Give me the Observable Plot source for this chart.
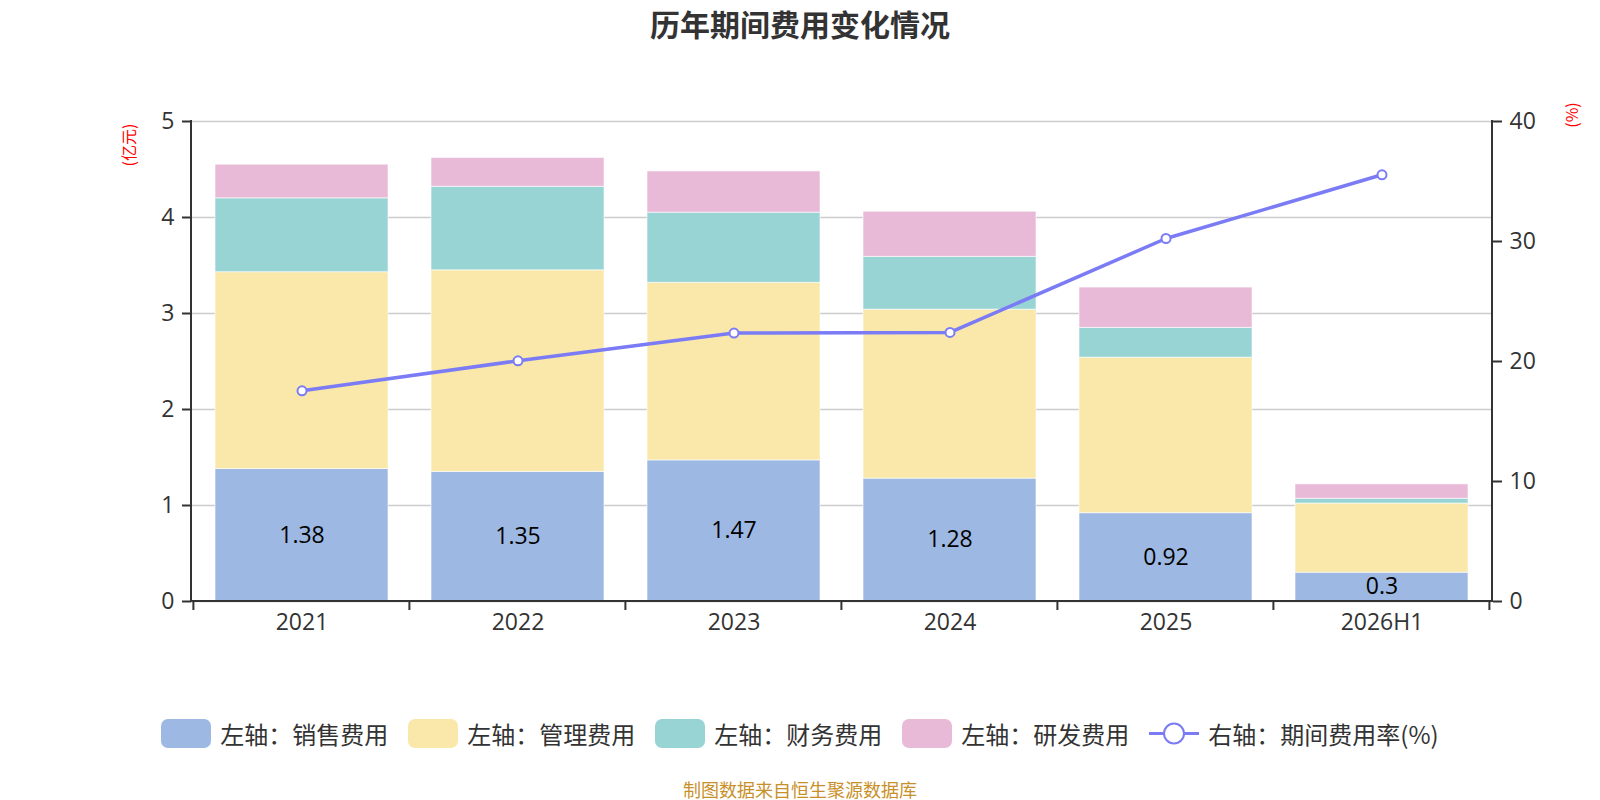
<!DOCTYPE html>
<html><head><meta charset="utf-8">
<script src="https://cdn.jsdelivr.net/npm/d3@7"></script>
<script src="https://cdn.jsdelivr.net/npm/@observablehq/plot@0.6"></script>
<style>
body{margin:0;background:#fff;width:1600px;height:800px;position:relative;overflow:hidden;font-family:"Open Sans","Noto Sans CJK SC",sans-serif}
#title{position:absolute;top:0;left:0;width:1600px;text-align:center;font-weight:bold;font-size:30px;font-family:"Noto Sans CJK SC",sans-serif;color:#333;line-height:46px}
#chart{position:absolute;top:60px;left:0}
.unit{position:absolute;color:#ff0000;font-size:16px;font-family:"Noto Sans CJK SC",sans-serif;transform:translate(-50%,-50%) rotate(-90deg);white-space:nowrap;line-height:16px}
#legend{position:absolute;top:716px;left:0;width:1600px;display:flex;justify-content:center;align-items:center;gap:20px}
.item{display:flex;align-items:center;gap:9px;font-size:24px;color:#333;font-family:"Noto Sans CJK SC",sans-serif}
.sw{width:50px;height:29px;border-radius:7px}
#caption{position:absolute;top:777px;left:0;width:1600px;text-align:center;font-size:18px;color:#c8902a;font-family:"Noto Sans CJK SC",sans-serif;line-height:24px}
</style></head>
<body>
<div id="title">历年期间费用变化情况</div>
<div id="chart"></div>
<div class="unit" style="left:128px;top:145px">(亿元)</div>
<div class="unit" style="left:1571px;top:115px">(%)</div>
<div id="legend"></div>
<div id="caption">制图数据来自恒生聚源数据库</div>
<script>
const categories = ["2021","2022","2023","2024","2025","2026H1"];
const seriesNames = ["左轴：销售费用","左轴：管理费用","左轴：财务费用","左轴：研发费用"];
const lineName = "右轴：期间费用率(%)";
const sales   = [1.38,1.35,1.47,1.28,0.92,0.30];
const admin   = [2.05,2.10,1.85,1.76,1.62,0.72];
const finance = [0.77,0.87,0.73,0.55,0.31,0.05];
const rnd     = [0.35,0.30,0.43,0.47,0.42,0.15];
const rate    = [17.56,20.06,22.37,22.42,30.25,35.56];
const leftTicks = [0,1,2,3,4,5];
const rightTicks = [0,10,20,30,40];
const colors = ["#9DB8E2","#F9E8A9","#98D4D4","#E8BAD8"];
const lineColor = "#7B7CF5";

const seriesValues = [sales, admin, finance, rnd];
const long = [];
seriesNames.forEach((s, si) => categories.forEach((c, i) => long.push({cat: c, series: s, value: seriesValues[si][i]})));
const salesRows = categories.map((c, i) => ({cat: c, value: sales[i]}));
const rateRows = categories.map((c, i) => ({cat: c, rate: rate[i]}));
const rightScale = 5 / 40;

function axisLines(index, scales, values, dims) {
  const {x, y} = scales;
  const left = dims.marginLeft, right = dims.width - dims.marginRight;
  const y0 = y(0), yTop = y(5);
  const step = x(categories[1]) - x(categories[0]);
  const bounds = categories.map(c => x(c) - step * 0.1);
  bounds.push(x(categories[categories.length - 1]) + step * 0.9);
  const g = d3.create("svg:g").attr("stroke", "#333").attr("stroke-width", 2).attr("fill", "none");
  g.append("line").attr("x1", left).attr("x2", left).attr("y1", y0 + 1).attr("y2", yTop - 1);
  g.append("line").attr("x1", right).attr("x2", right).attr("y1", y0 + 1).attr("y2", yTop - 1);
  g.append("line").attr("x1", left - 1).attr("x2", right + 1).attr("y1", y0).attr("y2", y0);
  bounds.forEach(b => g.append("line").attr("x1", b).attr("x2", b).attr("y1", y0).attr("y2", y0 + 9));
  return g.node();
}

const chart = Plot.plot({
  width: 1600,
  height: 620,
  marginLeft: 191,
  marginRight: 108,
  marginTop: 61,
  marginBottom: 79,
  style: {fontFamily: '"Open Sans","Noto Sans CJK SC",sans-serif', fontSize: "22px", color: "#333", background: "white"},
  x: {type: "band", domain: categories, paddingInner: 0.2, paddingOuter: 0.1, label: null},
  y: {domain: [0, 5], label: null},
  color: {domain: seriesNames, range: colors},
  marks: [
    Plot.gridY(leftTicks, {stroke: "#cccccc", strokeOpacity: 1, strokeWidth: 1.5}),
    Plot.barY(long, Plot.stackY({x: "cat", y: "value", fill: "series", order: seriesNames, stroke: "#ffffff", strokeOpacity: 0.6, strokeWidth: 1})),
    Plot.text(salesRows, {x: "cat", y: d => d.value / 2, text: d => String(d.value), fill: "#000", fontSize: 23}),
    Plot.axisY(leftTicks, {anchor: "left", tickSize: 9, tickPadding: 8, fontSize: 23, stroke: "#333", strokeWidth: 2, fill: "#333", tickFormat: d => String(d), label: null}),
    Plot.axisY(rightTicks.map(t => t * rightScale), {anchor: "right", tickSize: 9, tickPadding: 8, fontSize: 23, stroke: "#333", strokeWidth: 2, fill: "#333", tickFormat: d => String(Math.round(d / rightScale)), label: null}),
    Plot.axisX({tickSize: 0, tickPadding: 12, fontSize: 23, fill: "#333", label: null}),
    axisLines,
    Plot.line(rateRows, {x: "cat", y: d => d.rate * rightScale, stroke: lineColor, strokeWidth: 3.5}),
    Plot.dot(rateRows, {x: "cat", y: d => d.rate * rightScale, r: 4.5, fill: "#fff", stroke: lineColor, strokeWidth: 2})
  ]
});
document.getElementById("chart").appendChild(chart);

const legend = document.getElementById("legend");
seriesNames.forEach((s, i) => {
  const it = document.createElement("div"); it.className = "item";
  const sw = document.createElement("div"); sw.className = "sw"; sw.style.background = colors[i];
  const t = document.createElement("span"); t.textContent = s;
  it.append(sw, t); legend.append(it);
});
{
  const it = document.createElement("div"); it.className = "item";
  const ns = "http://www.w3.org/2000/svg";
  const svg = document.createElementNS(ns, "svg");
  svg.setAttribute("width", 50); svg.setAttribute("height", 29);
  const ln = document.createElementNS(ns, "line");
  ln.setAttribute("x1", 0); ln.setAttribute("x2", 50); ln.setAttribute("y1", 14.5); ln.setAttribute("y2", 14.5);
  ln.setAttribute("stroke", lineColor); ln.setAttribute("stroke-width", 3);
  const c = document.createElementNS(ns, "circle");
  c.setAttribute("cx", 25); c.setAttribute("cy", 14.5); c.setAttribute("r", 10);
  c.setAttribute("fill", "#fff"); c.setAttribute("stroke", lineColor); c.setAttribute("stroke-width", 2);
  svg.append(ln, c);
  const t = document.createElement("span"); t.textContent = lineName;
  it.append(svg, t); legend.append(it);
}
</script>
</body></html>
